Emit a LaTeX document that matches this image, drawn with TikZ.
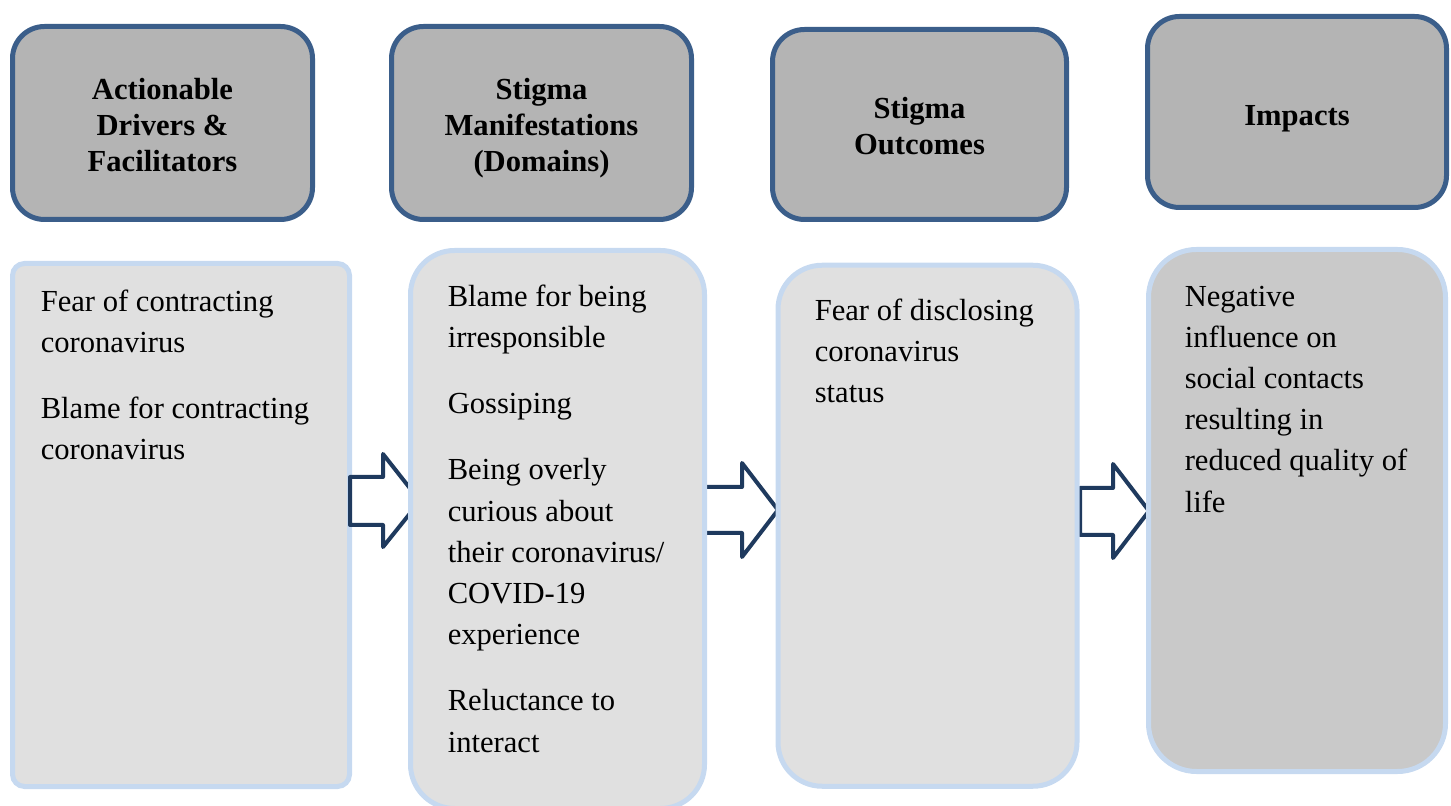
\documentclass[tikz,border=0pt]{standalone}
\usepackage{fontspec}
\setmainfont{Liberation Serif}

\definecolor{hdrline}{RGB}{59,94,138}
\definecolor{hdrfill}{RGB}{180,180,180}
\definecolor{bodyline}{RGB}{198,217,240}
\definecolor{bodyfill}{RGB}{224,224,224}
\definecolor{lastfill}{RGB}{201,201,201}
\definecolor{arrline}{RGB}{31,58,94}

\tikzset{every picture/.style={line width=0.75pt}}

\begin{document}
\begin{tikzpicture}[x=0.5pt,y=0.5pt,yscale=-1,xscale=1,
  hdrbox/.style={draw=hdrline, line width=2.5pt, fill=hdrfill, rounded corners=16pt, inner sep=0pt},
  hdrtext/.style={inner sep=0pt, align=center, font=\fontsize{15.3}{18}\selectfont\bfseries},
  bodybox/.style={draw=bodyline, line width=2.5pt, fill=bodyfill, inner sep=0pt},
  bodytext/.style={anchor=north west, inner sep=0pt, align=left, font=\fontsize{15.3}{20.6}\selectfont},
  blockarr/.style={draw=arrline, line width=2pt, fill=white, line join=round}]
\useasboundingbox (0,0) rectangle (1451,806);

% Header boxes
\node [hdrbox, minimum width=150pt, minimum height=96.5pt] (drivers) at (162.5,123) {};
\node [hdrbox, minimum width=150pt, minimum height=96.5pt] (manif) at (541.5,123) {};
\node [hdrbox, minimum width=147pt, minimum height=95pt] (outcomes) at (919.5,124.5) {};
\node [hdrbox, minimum width=149.5pt, minimum height=95.5pt] (impacts) at (1297,112) {};

% Text Node
\node [hdrtext, yshift=-1pt] (drivlbl) at (drivers) {Actionable\\Drivers \&\\Facilitators};
% Text Node
\node [hdrtext, yshift=-2.5pt] (maniflbl) at (manif) {Stigma\\Manifestations\\(Domains)};
% Text Node
\node [hdrtext, yshift=-1pt] (outlbl) at (outcomes) {Stigma\\Outcomes};
% Text Node
\node [hdrtext, yshift=-3.5pt] (implbl) at (impacts) {Impacts};

% Body box 1
\node [bodybox, rounded corners=6pt, minimum width=168.5pt, minimum height=261.5pt] (drivbox) at (181,525) {};

%Shape: Right Arrow [id:arr1]
\draw [blockarr] (350,477) -- (383,477) -- (383,454) -- (420,501) -- (383,547) -- (383,525) -- (350,525) -- cycle ;
%Shape: Right Arrow [id:arr2]
\draw [blockarr] (700,487) -- (742,487) -- (742,463) -- (778,510) -- (742,557) -- (742,533) -- (700,533) -- cycle ;
%Shape: Right Arrow [id:arr3]
\draw [blockarr] (1080,488) -- (1113,488) -- (1113,464) -- (1149,511) -- (1113,558) -- (1113,535) -- (1080,535) -- cycle ;

% Body boxes
\node [bodybox, rounded corners=22pt, minimum width=147pt, minimum height=279pt] (manifbox) at (557.5,529.5) {};
\node [bodybox, rounded corners=22pt, minimum width=149.5pt, minimum height=260.5pt] (outbox) at (927.5,525.75) {};
\node [bodybox, fill=lastfill, rounded corners=24pt, minimum width=148.5pt, minimum height=261pt] (impbox) at (1297,510.5) {};

% Text Node
\node [bodytext] (drivtxt) at (40,289) {Fear of contracting\\coronavirus\\[12.5pt]Blame for contracting\\coronavirus};
% Text Node
\node [bodytext] (maniftxt) at (447,284) {Blame for being\\irresponsible\\[12.5pt]Gossiping\\[12.5pt]Being overly\\curious about\\their coronavirus/\\COVID-19\\experience\\[12.5pt]Reluctance to\\interact};
% Text Node
\node [bodytext] (outtxt) at (814,298) {Fear of disclosing\\coronavirus\\status};
% Text Node
\node [bodytext] (imptxt) at (1184,285) {Negative\\influence on\\social contacts\\resulting in\\reduced quality of\\life};

\end{tikzpicture}
\end{document}
